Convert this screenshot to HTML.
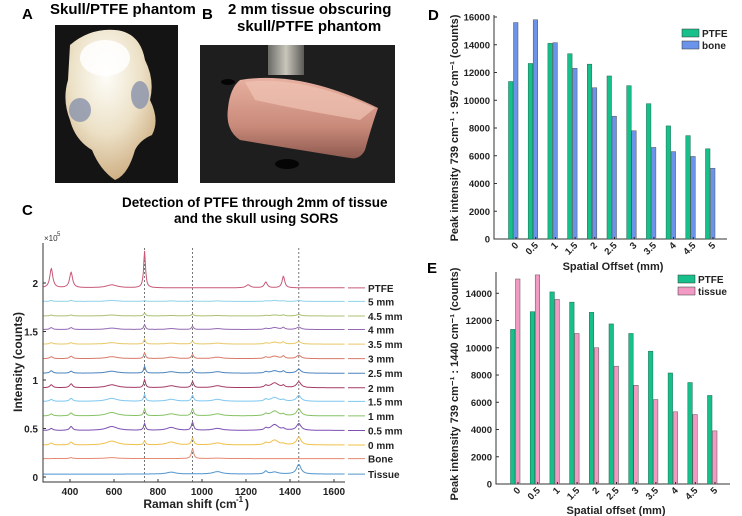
<!DOCTYPE html>
<html><head><meta charset="utf-8"><style>
html,body{margin:0;padding:0;background:#fff;}
svg{display:block;font-family:"Liberation Sans",Arial,sans-serif;}
</style></head><body>
<svg id="fig" width="742" height="516" viewBox="0 0 742 516" xmlns="http://www.w3.org/2000/svg">
<defs>
<radialGradient id="skullG" cx="0.45" cy="0.3" r="0.7"><stop offset="0" stop-color="#fdfdf9"/><stop offset="0.55" stop-color="#ede2c8"/><stop offset="1" stop-color="#cfb085"/></radialGradient>
<linearGradient id="meatG" x1="0" y1="0" x2="0" y2="1"><stop offset="0" stop-color="#e7b0a0"/><stop offset="0.6" stop-color="#c98a7a"/><stop offset="1" stop-color="#8e5a50"/></linearGradient>
<linearGradient id="rodG" x1="0" y1="0" x2="1" y2="0"><stop offset="0" stop-color="#6a6a66"/><stop offset="0.5" stop-color="#c9c6bc"/><stop offset="1" stop-color="#5a5a56"/></linearGradient>
</defs>
<g font-weight="bold" fill="#000">
<text x="22" y="19" font-size="15">A</text>
<text x="50" y="14" font-size="15">Skull/PTFE phantom</text>
<text x="202" y="19" font-size="15">B</text>
<text x="228" y="14" font-size="15">2 mm tissue obscuring</text>
<text x="237" y="31" font-size="15">skull/PTFE phantom</text>
<text x="428" y="20" font-size="15">D</text>
<text x="22" y="215" font-size="15">C</text>
<text x="122" y="207" font-size="13.5">Detection of PTFE through 2mm of tissue</text>
<text x="174" y="223" font-size="13.5">and the skull using SORS</text>
<text x="427" y="273" font-size="15">E</text>
</g>
<g>
<rect x="55" y="25" width="123" height="158" fill="#141414"/>
<path d="M70 45 Q90 28 115 30 Q140 32 145 60 Q155 80 150 100 Q160 120 152 135 Q140 140 135 150 Q128 175 115 180 Q100 170 92 150 Q75 140 70 120 Q62 100 68 80 Z" fill="url(#skullG)"/>
<ellipse cx="105" cy="58" rx="25" ry="18" fill="#ffffff" opacity="0.85"/>
<ellipse cx="80" cy="110" rx="11" ry="12" fill="#8e97ad" opacity="0.85"/>
<ellipse cx="140" cy="95" rx="9" ry="14" fill="#8e97ad" opacity="0.85"/>
</g>
<g>
<rect x="200" y="45" width="195" height="138" fill="#1e1e1e"/>
<rect x="268" y="45" width="36" height="30" fill="url(#rodG)"/>
<ellipse cx="228" cy="82" rx="7" ry="3" fill="#050505"/>
<ellipse cx="287" cy="164" rx="12" ry="5" fill="#050505"/>
<path d="M240 80 Q300 70 378 108 Q372 125 365 150 Q360 160 350 158 Q300 150 240 140 Q225 130 228 108 Q230 88 240 80 Z" fill="url(#meatG)"/>
<path d="M245 82 Q300 75 375 108 L360 120 Q300 110 255 100 Z" fill="#efc3b4" opacity="0.7"/>
</g>
<g id="panelC"></g>
<g id="panelD"></g>
<g id="panelE"></g>
</svg>
<script>
var NS="http://www.w3.org/2000/svg";
function mk(parent,tag,attrs,txt){var e=document.createElementNS(NS,tag);for(var k in attrs)e.setAttribute(k,attrs[k]);if(txt!==undefined)e.textContent=txt;parent.appendChild(e);return e;}

var traceNames=["PTFE","5 mm","4.5 mm","4 mm","3.5 mm","3 mm","2.5 mm","2 mm","1.5 mm","1 mm","0.5 mm","0 mm","Bone","Tissue"];
var traceOffsets=[1.95,1.81,1.66,1.52,1.37,1.22,1.07,0.92,0.78,0.63,0.48,0.33,0.19,0.03];
var peakPositions=[315,405,590,739,860,957,1070,1210,1290,1330,1370,1440];
var peakHeights=[
[0.20,0.16,0.03,0.38,0,0,0,0.03,0.06,0,0.12,0],
[0.01,0.01,0.01,0.01,0.005,0.01,0.005,0,0.005,0.01,0.005,0.01],
[0.01,0.01,0.01,0.03,0.005,0.02,0.005,0,0.005,0.01,0.01,0.015],
[0.02,0.02,0.015,0.05,0.01,0.03,0.01,0,0.01,0.02,0.02,0.025],
[0.015,0.015,0.015,0.05,0.01,0.03,0.01,0,0.01,0.02,0.02,0.025],
[0.02,0.025,0.02,0.06,0.015,0.04,0.015,0,0.015,0.025,0.025,0.035],
[0.025,0.02,0.02,0.07,0.015,0.04,0.015,0,0.015,0.025,0.02,0.04],
[0.03,0.04,0.03,0.08,0.02,0.06,0.02,0,0.02,0.05,0.02,0.06],
[0.02,0.03,0.03,0.07,0.02,0.06,0.02,0,0.02,0.04,0.015,0.06],
[0.02,0.03,0.035,0.07,0.02,0.07,0.02,0,0.02,0.05,0.015,0.07],
[0.02,0.04,0.04,0.07,0.03,0.08,0.02,0,0.02,0.06,0.015,0.07],
[0.02,0.03,0.04,0.04,0.03,0.07,0.02,0,0.02,0.05,0.01,0.08],
[0,0.01,0.01,0,0,0.1,0.005,0,0,0,0,0],
[0,0,0,0,0.02,0,0.025,0,0.03,0.02,0,0.1]];
var peakWidths=[8,8,30,5,25,6,25,12,8,20,7,12];
var traceColors=["#c85a78","#8fd2ea","#a9c172","#9468b2","#e9c767","#d77a6a","#4b84bd","#a33a66","#7ec7f0","#86c266","#7c4fb2","#f0c04a","#e58a70","#4f94cf"];
var cXTicks=[400,600,800,1000,1200,1400,1600];
var cYTicks=[0,0.5,1,1.5,2];
var cMarkers=[739,957,1440];

var offsetCats=["0","0.5","1","1.5","2","2.5","3","3.5","4","4.5","5"];
var ptfeValues=[11350,12650,14100,13350,12600,11750,11050,9750,8150,7450,6500];
var boneValues=[15600,15800,14150,12300,10900,8850,7800,6600,6300,5950,5100];
var tissueValues=[15050,15350,13550,11050,10000,8650,7250,6200,5300,5100,3900];
var dYTicks=[0,2000,4000,6000,8000,10000,12000,14000,16000];
var eYTicks=[0,2000,4000,6000,8000,10000,12000,14000];

(function(){
var g=document.getElementById("panelC");
var L=43,R=345,B=482,T=243;
function xs(v){return 70+(v-400)*(334-70)/1200;}
function ys(v){return 477-v*97;}
var ax=mk(g,"path",{d:"M"+L+" "+T+" L"+L+" "+B+" L"+R+" "+B,fill:"none",stroke:"#333","stroke-width":"1"});


cXTicks.forEach(function(t){
 var x=xs(t);mk(g,"line",{x1:x,y1:B,x2:x,y2:B-3,stroke:"#333"});
 var tx=mk(g,"text",{x:x,y:B+13,"font-size":"10","font-weight":"bold","text-anchor":"middle",fill:"#222"},String(t));
 
 
});
cYTicks.forEach(function(t){
 var y=ys(t);mk(g,"line",{x1:L,y1:y,x2:L+3,y2:y,stroke:"#333"});
 var tx=mk(g,"text",{x:L-5,y:y+4,"font-size":"10","font-weight":"bold","text-anchor":"end",fill:"#222"},String(t));
 
 
});
var ex=mk(g,"text",{x:44,y:241,"font-size":"8",fill:"#333"},"\u00d710");


mk(g,"text",{x:57,y:236,"font-size":"6",fill:"#333"},"5");
var xl=mk(g,"text",{x:190,y:508,"font-size":"12","font-weight":"bold","text-anchor":"middle",fill:"#222"},"Raman shift (cm");


mk(g,"text",{x:236,y:502,"font-size":"8","font-weight":"bold",fill:"#222"},"-1");
mk(g,"text",{x:245,y:508,"font-size":"12","font-weight":"bold",fill:"#222"},")");
var yl=mk(g,"text",{x:0,y:0,"font-size":"12","font-weight":"bold","text-anchor":"middle",fill:"#222",transform:"translate(22,362) rotate(-90)"},"Intensity (counts)");


cMarkers.forEach(function(m){
 var l=mk(g,"line",{x1:xs(m),y1:T+5,x2:xs(m),y2:B,stroke:"#555","stroke-width":"0.8","stroke-dasharray":"2,2"});
 
 
});
traceNames.forEach(function(name,i){
 var d="";
 for(var w=280;w<=1650;w+=3){
  var v=traceOffsets[i];
  for(var p=0;p<peakPositions.length;p++){var dx=(w-peakPositions[p])/peakWidths[p];v+=peakHeights[i][p]/(1+dx*dx);}
  d+=(w===280?"M":"L")+xs(w).toFixed(1)+" "+ys(v).toFixed(1);
 }
 var pth=mk(g,"path",{d:d,fill:"none",stroke:traceColors[i],"stroke-width":"1"});
 
 
 var ly=ys(traceOffsets[i]);
 var li=mk(g,"line",{x1:348,y1:ly,x2:365,y2:ly,stroke:traceColors[i],"stroke-width":"1"});
 
 
 var lt=mk(g,"text",{x:368,y:ly+4,"font-size":"10","font-weight":"bold",fill:"#222"},name);
 
 
});
})();

function barPanel(gid,cfg,secondValues,secondColor,secondName,yTicks){
 var g=document.getElementById(gid);
 function ys(v){return cfg.y0-(v)*(cfg.y0-cfg.yRefPx)/cfg.yRef;}
 function xc(i){return cfg.x0+i*(cfg.x1-cfg.x0)/(offsetCats.length-1);}
 var ax=mk(g,"path",{d:"M"+cfg.L+" "+cfg.T+" L"+cfg.L+" "+cfg.y0+" L"+cfg.R+" "+cfg.y0,fill:"none",stroke:"#333","stroke-width":"1"});
 
 
 yTicks.forEach(function(t){
  var y=ys(t);mk(g,"line",{x1:cfg.L,y1:y,x2:cfg.L+3,y2:y,stroke:"#333"});
  var tx=mk(g,"text",{x:cfg.L-4,y:y+3.5,"font-size":"9.5","font-weight":"bold","text-anchor":"end",fill:"#222"},String(t));
  
  
 });
 offsetCats.forEach(function(c,i){
  var x=xc(i);
  var b1=mk(g,"rect",{x:x-7.5,y:ys(ptfeValues[i]),width:4.5,height:cfg.y0-ys(ptfeValues[i]),fill:"#17c08a",stroke:"#1a6a50","stroke-width":"0.5"});
  
  
  var b2=mk(g,"rect",{x:x-2.5,y:ys(secondValues[i]),width:4.5,height:cfg.y0-ys(secondValues[i]),fill:secondColor,stroke:"#555","stroke-width":"0.5"});
  
  
  mk(g,"line",{x1:x,y1:cfg.y0,x2:x,y2:cfg.y0-2,stroke:"#222"});
  var tx=mk(g,"text",{x:0,y:0,"font-size":"9.5","font-weight":"bold","text-anchor":"end",fill:"#222",transform:"translate("+(x+3)+","+(cfg.y0+7)+") rotate(-45)"},c);
  
  
 });
 var lg=cfg.legend;
 var s1=mk(g,"rect",{x:lg[0],y:lg[1],width:17,height:8,fill:"#17c08a",stroke:"#333","stroke-width":"0.5"});
 
 
 var t1=mk(g,"text",{x:lg[0]+20,y:lg[1]+8,"font-size":"10","font-weight":"bold",fill:"#222"},"PTFE");
 
 
 var s2=mk(g,"rect",{x:lg[0],y:lg[1]+12,width:17,height:8,fill:secondColor,stroke:"#333","stroke-width":"0.5"});
 
 
 var t2=mk(g,"text",{x:lg[0]+20,y:lg[1]+20,"font-size":"10","font-weight":"bold",fill:"#222"},secondName);
 
 
 var xt=mk(g,"text",{x:cfg.xTitle[0],y:cfg.xTitle[1],"font-size":"11","font-weight":"bold","text-anchor":"middle",fill:"#222"},cfg.xTitleText);
 
 
 var yt=mk(g,"text",{x:0,y:0,"font-size":"11","font-weight":"bold","text-anchor":"middle",fill:"#222",transform:"translate("+cfg.yTitle[0]+","+cfg.yTitle[1]+") rotate(-90)"},cfg.yTitleText);
 
 
}
barPanel("panelD",{L:494,R:727,T:15,y0:239,yRef:16000,yRefPx:17,x0:516,x1:713,legend:[682,29],xTitle:[613,270],xTitleText:"Spatial Offset (mm)",yTitle:[458,128],yTitleText:"Peak intensity 739 cm\u207B\u00B9 : 957 cm\u207B\u00B9 (counts)"},boneValues,"#6b93ea","bone",dYTicks);
barPanel("panelE",{L:496,R:730,T:272,y0:484,yRef:14000,yRefPx:293.3,x0:518,x1:715,legend:[678,275],xTitle:[616,514],xTitleText:"Spatial offset (mm)",yTitle:[458,384],yTitleText:"Peak intensity 739 cm\u207B\u00B9 : 1440 cm\u207B\u00B9 (counts)"},tissueValues,"#f39ac4","tissue",eYTicks);
</script>
</body></html>
